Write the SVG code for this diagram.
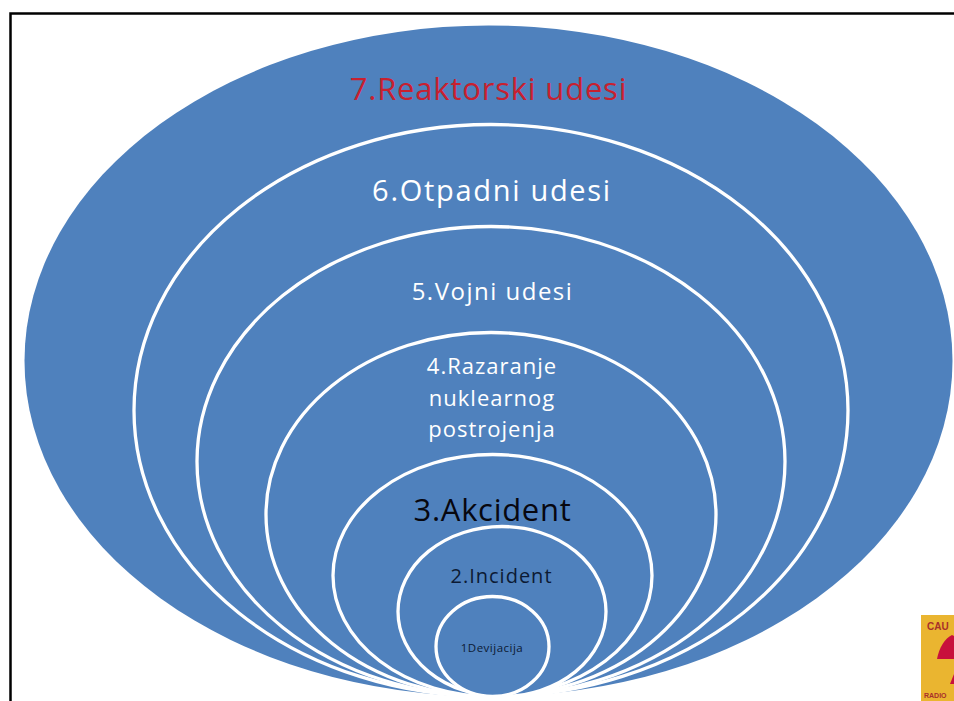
<svg xmlns="http://www.w3.org/2000/svg" width="954" height="701" viewBox="0 0 954 701">
<style>
.e{fill:#4f81bd;stroke:#fff;stroke-width:3.300}
text{font-family:"Open Sans","Noto Sans","Liberation Sans",sans-serif;text-anchor:middle}
.w{fill:#fff}.d{fill:#0c1a33}
</style>
<rect width="954" height="701" fill="#fff"/>
<path d="M10.500 701V13.500H954" fill="none" stroke="#000" stroke-width="2.500"/>
<g id="n7"><ellipse class="e" cx="488.500" cy="361" rx="464" ry="335.500" style="stroke:none"/><text x="488.500" y="100" font-size="31" letter-spacing="0.800" fill="#c8202f">7.Reaktorski udesi</text></g>
<g id="n6"><ellipse class="e" cx="491" cy="410.500" rx="357" ry="286"/><text x="492" y="201" font-size="29" letter-spacing="1.700" class="w">6.Otpadni udesi</text></g>
<g id="n5"><ellipse class="e" cx="491" cy="461.500" rx="294" ry="235"/><text x="492.500" y="300" font-size="24" letter-spacing="1.500" class="w">5.Vojni udesi</text></g>
<g id="n4"><ellipse class="e" cx="491" cy="514.500" rx="225" ry="182"/><text x="492" y="374" font-size="22" letter-spacing="1" class="w">4.Razaranje</text><text x="492" y="406" font-size="22" letter-spacing="1" class="w">nuklearnog</text><text x="492" y="437" font-size="22" letter-spacing="1" class="w">postrojenja</text></g>
<g id="n3"><ellipse class="e" cx="492.500" cy="575.500" rx="159.500" ry="121"/><text x="492.500" y="521" font-size="31" letter-spacing="0.700" fill="#07070f">3.Akcident</text></g>
<g id="n2"><ellipse class="e" cx="502" cy="611.500" rx="104" ry="85"/><text x="501.500" y="583" font-size="20" letter-spacing="1" class="d">2.Incident</text></g>
<g id="n1"><ellipse class="e" cx="492.500" cy="646.500" rx="56.500" ry="50"/><text x="492" y="652" font-size="11.500" letter-spacing="0.500" class="d">1Devijacija</text></g>
<g id="logo"><rect x="921" y="615" width="33" height="86" fill="#eab530"/><text x="927" y="630" font-size="10" font-weight="700" fill="#a8302a" style="font-family:'Liberation Sans',sans-serif;text-anchor:start">CAU</text><path d="M937 659C939 648 945 638 952 635L954 636V659Z" fill="#c8103c"/><path d="M950 684L954 674V684Z" fill="#c8103c"/><text x="924" y="698" font-size="7" font-weight="700" fill="#a8302a" style="font-family:'Liberation Sans',sans-serif;text-anchor:start">RADIO</text></g>
</svg>
